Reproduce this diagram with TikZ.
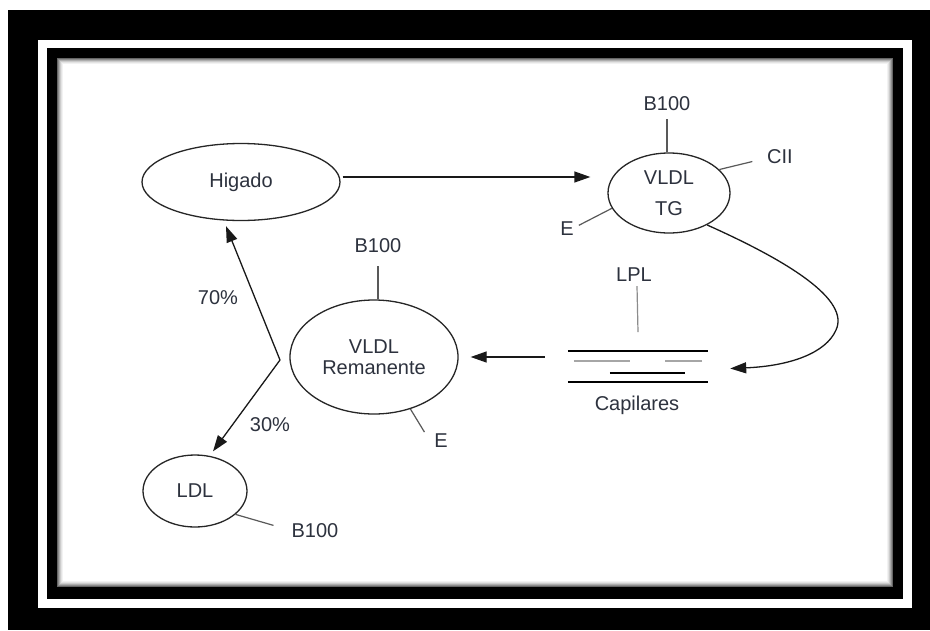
\documentclass[tikz,border=0pt]{standalone}
\usepackage{fontspec}
\setmainfont{Liberation Sans}
\usetikzlibrary{shapes.geometric,arrows.meta}
\definecolor{tinta}{RGB}{45,50,62}
\begin{document}
\begin{tikzpicture}[x=1pt,y=-1pt]
	\tikzset{
		every node/.style={font=\fontsize{20}{21}\selectfont,text=tinta,inner sep=1pt},
		% elipse
		lipo/.style={draw=black!85,ellipse,line width=1.3pt,inner sep=0pt,align=center},
		% apoproteina
		apo/.style={draw=black!65,line width=1.2pt},
		% flecha
		flecha/.style={draw=black!90,line width=1.3pt,-{Triangle[length=16pt,width=11pt]}},
		% capilar
		capi/.style={line width=1.6pt},
	}
	%
	\useasboundingbox (0,0) rectangle (930,630);
	% marco
	\fill[black] (8,10) rectangle (930,630);
	\fill[white] (38,40) rectangle (912,608);
	\fill[black] (47,48) rectangle (903,599);
	\fill[white] (57,58) rectangle (893,587);
	\foreach \i/\c in {0/60,1/45,2/32,3/20,4/11,5/5}
		\draw[black!\c,line width=1pt] (57.5+\i,58.5+\i) rectangle (892.5-\i,586.5-\i);
	%
	\node[lipo,minimum width=198,minimum height=77] (hig) at (241,182) {Higado};
	\node[lipo,minimum width=122,minimum height=80] (vtg) at (669,193) {VLDL\\[10pt]TG};
	\node[lipo,minimum width=168,minimum height=114] (rem) at (374,357) {VLDL\\Remanente};
	\node[lipo,minimum width=104,minimum height=72] (ldl) at (195,491) {LDL};
	%
	\node (b1) at (667,104) {B100};
	\node (cii) at (780,157) {CII};
	\node (e1) at (567,229) {E};
	\node (b2) at (378,246) {B100};
	\node (e2) at (441,441) {E};
	\node (b3) at (315,531) {B100};
	\node (lpl) at (634,275) {LPL};
	\node (cap) at (637,405) {Capilares};
	\node (p70) at (218,298) {70\%};
	\node (p30) at (270,425) {30\%};
	% capilares
	\node[minimum width=140,minimum height=31,inner sep=0pt] (lecho) at (638,366.5) {};
	\draw[capi] (lecho.north west) -- (lecho.north east)
		(lecho.south west) -- (lecho.south east)
		([xshift=42pt]lecho.south west) ++(0,-9) -- ++(75,0);
	\draw[capi,black!35] ([xshift=6pt]lecho.north west) ++(0,10) -- ++(56,0)
		([xshift=-6pt]lecho.north east) ++(0,10) -- ++(-37,0);
	\draw[apo,black!45] (lpl.south) ++(3,3) -- ++(1,46);
	% apoproteinas
	\draw[apo] (vtg.north) ++(-2,0) -- ++(0,-33);
	\draw[apo] (vtg.25) -- ++(33,-8);
	\draw[apo] (vtg.195) -- ++(-33,17);
	\draw[apo] (rem.north) ++(4,0) -- ++(0,-33);
	\draw[apo] (rem.-55) -- ++(14,23);
	\draw[apo] (ldl.-30) -- ++(38,11);
	% flechas
	\draw[flecha,shorten >=17pt] (hig.east) ++(2,-5) coordinate (h1) -- (h1 -| vtg.west);
	\coordinate (c1) at ([xshift=22pt,yshift=-2pt]lecho.east);
	\draw[flecha] (vtg.-40) .. controls (790,262) and (850,300) .. (836,330) .. controls (826,353) and (790,366) .. (c1);
	\draw[flecha,shorten <=23pt,shorten >=12pt] (lecho.west |- rem.east) -- (rem.east);
	\coordinate (split) at (280,360);
	\draw[flecha] (split) -- ([xshift=-15pt,yshift=-5pt]hig.south);
	\draw[flecha] (split) -- ([xshift=18pt,yshift=3pt]ldl.north);
\end{tikzpicture}
\end{document}
